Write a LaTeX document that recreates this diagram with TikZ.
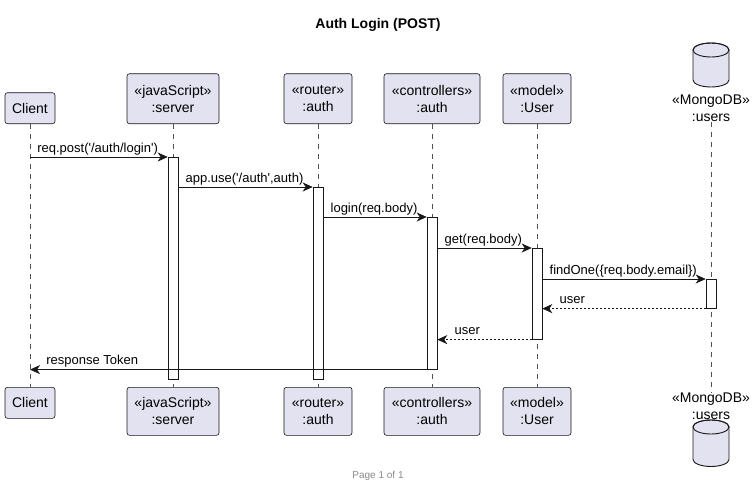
\documentclass[tikz,border=0pt]{standalone}
\usepackage{fontspec}
\setmainfont{Liberation Sans}
\newfontfamily\umlfont{Liberation Sans}
\usetikzlibrary{arrows.meta,positioning}
\definecolor{partfill}{HTML}{E2E2F0}
\definecolor{partline}{HTML}{181818}
\definecolor{footgray}{HTML}{8A8A8A}

\tikzset{
  part/.style={draw=partline, fill=partfill, rounded corners=2.5pt, line width=0.6pt,
    align=center, font=\umlfont\fontsize{14}{17}\selectfont, inner sep=0pt},
  dbase/.style={draw=partline, fill=partfill, line width=0.9pt},
  dblabel/.style={align=center, font=\umlfont\fontsize{14}{17}\selectfont, inner sep=0pt},
  bar/.style={draw=partline, fill=white, line width=0.6pt, minimum width=10pt, inner sep=0pt, anchor=north},
  life/.style={draw=partline!75, dash pattern=on 5pt off 5pt, line width=0.5pt},
  msg/.style={draw=partline, line width=0.7pt, -{Stealth[length=10pt,width=9pt,inset=3pt]}},
  ret/.style={msg, dash pattern=on 2pt off 2pt},
  lbl/.style={font=\umlfont\fontsize{13}{15}\selectfont, inner sep=0pt, anchor=base west, yshift=5pt},
}

% database drum: centre x, y of top rim, y of bottom rim
\newcommand\drum[3]{%
  \filldraw[dbase] (#1-18,#2) -- (#1-18,#3) arc[start angle=180, end angle=360, x radius=18pt, y radius=7pt]
      -- (#1+18,#2) arc[start angle=0, end angle=180, x radius=18pt, y radius=7pt] -- cycle;
  \draw[dbase, fill=none] (#1,#2) ellipse [x radius=18pt, y radius=7pt];
}

\begin{document}
\begin{tikzpicture}[x=1pt,y=-1pt]
    \useasboundingbox (0,0) rectangle (753,488);
    \node[font=\umlfont\bfseries\fontsize{14}{17}\selectfont] (title) at (378,25) {Auth Login (POST)};

    % participants on top
    \node[part, minimum width=50pt, minimum height=31pt, anchor=south] (cT) at (30,124) {Client};
    \node[part, minimum width=92pt, minimum height=50pt, anchor=south] (sT) at (173,124) {«javaScript»\\:server};
    \node[part, minimum width=68pt, minimum height=50pt, anchor=south] (rT) at (318,124) {«router»\\:auth};
    \node[part, minimum width=96pt, minimum height=50pt, anchor=south] (kT) at (432,124) {«controllers»\\:auth};
    \node[part, minimum width=68pt, minimum height=50pt, anchor=south] (uT) at (537,124) {«model»\\:User};
    \drum{711}{50}{80}
    \node[dblabel] (dbTl) at (711,108.5) {«MongoDB»\\:users};

    % participants at the bottom
    \node[part, minimum width=50pt, minimum height=31pt, anchor=north] (cB) at (30,387) {Client};
    \node[part, minimum width=92pt, minimum height=48pt, anchor=north] (sB) at (173,387) {«javaScript»\\:server};
    \node[part, minimum width=68pt, minimum height=48pt, anchor=north] (rB) at (318,387) {«router»\\:auth};
    \node[part, minimum width=96pt, minimum height=48pt, anchor=north] (kB) at (432,387) {«controllers»\\:auth};
    \node[part, minimum width=68pt, minimum height=48pt, anchor=north] (uB) at (537,387) {«model»\\:User};
    \node[dblabel] (dbBl) at (711,406) {«MongoDB»\\:users};
    \drum{711}{427}{459.5}

    % lifelines
    \draw[life] (cT) -- (cB);
    \draw[life] (sT) -- (sB);
    \draw[life] (rT) -- (rB);
    \draw[life] (kT) -- (kB);
    \draw[life] (uT) -- (uB);
    \draw[life] (dbTl) -- (dbBl);

    % activations
    \node[bar, minimum height=222pt] (aS) at (173,157) {};
    \node[bar, minimum height=192pt] (aR) at (318,187) {};
    \node[bar, minimum height=152pt] (aK) at (432,217) {};
    \node[bar, minimum height=91pt] (aU) at (537,248) {};
    \node[bar, minimum height=29pt] (aDB) at (711,279) {};

    % calls
    \draw[msg] (cT.south |- aS.north) -- (aS.north west)
        node[lbl, pos=0, xshift=7pt] {req.post('/auth/login')};
    \draw[msg] (aS.east |- aR.north) -- (aR.north west)
        node[lbl, pos=0, xshift=7pt] {app.use('/auth',auth)};
    \draw[msg] (aR.east |- aK.north) -- (aK.north west)
        node[lbl, pos=0, xshift=7pt] {login(req.body)};
    \draw[msg] (aK.east |- aU.north) -- (aU.north west)
        node[lbl, pos=0, xshift=7pt] {get(req.body)};
    \draw[msg] (aU.east |- aDB.north) -- (aDB.north west)
        node[lbl, pos=0, xshift=7pt] {findOne(\{req.body.email\})};

    % returns
    \draw[ret] (aDB.south west) -- (aU.east |- aDB.south)
        node[lbl, pos=1, xshift=17pt] {user};
    \draw[ret] (aU.south west) -- (aK.east |- aU.south)
        node[lbl, pos=1, xshift=17pt] {user};
    \draw[msg] (aK.south west) -- (cT.south |- aK.south)
        node[lbl, pos=1, xshift=16pt] {response Token};

    \node[font=\umlfont\fontsize{10}{12}\selectfont, text=footgray] (foot) at (378,476) {Page 1 of 1};
\end{tikzpicture}
\end{document}
